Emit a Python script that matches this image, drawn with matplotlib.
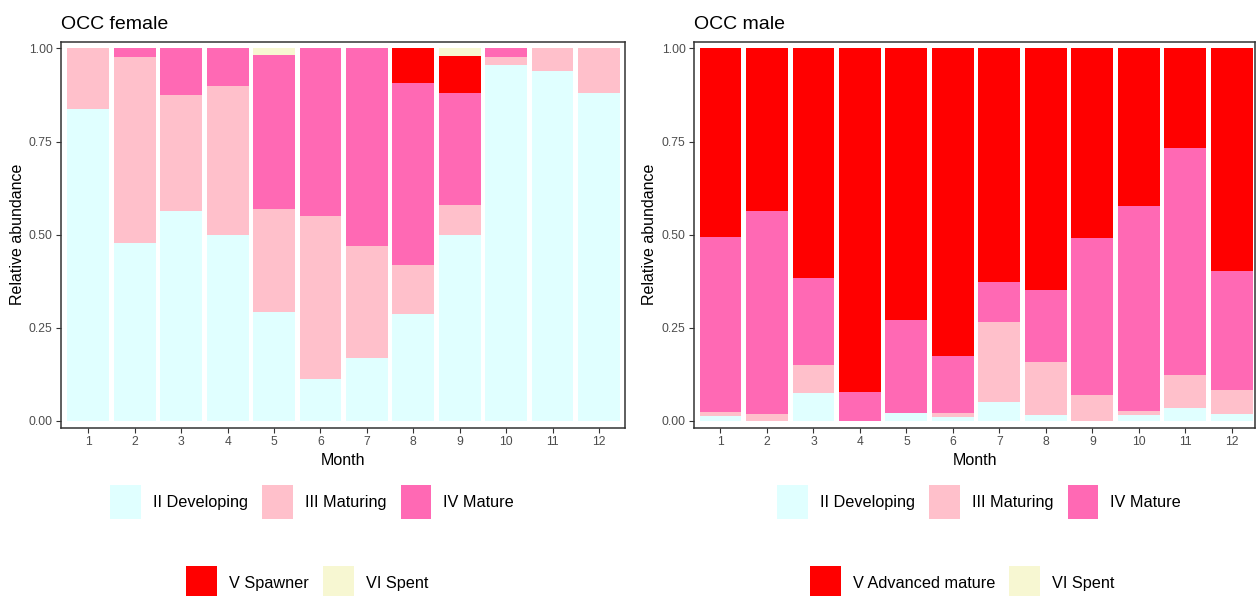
import matplotlib
matplotlib.use("Agg")
import matplotlib.pyplot as plt
from matplotlib.patches import Patch
import numpy as np

plt.rcParams['font.family'] = ['Liberation Sans', 'DejaVu Sans']

months = list(range(1, 13))
month_labels = [str(m) for m in months]

female_stages = ["II Developing", "III Maturing", "IV Mature", "V Spawner", "VI Spent"]
male_stages = ["II Developing", "III Maturing", "IV Mature", "V Advanced mature", "VI Spent"]
stage_colors = ["#E0FFFF", "#FFC0CB", "#FF69B4", "#FF0000", "#F7F7D2"]

# Relative abundance of each maturity stage per month (stacked from the bottom)
female_developing = [0.837, 0.477, 0.563, 0.500, 0.292, 0.112, 0.169, 0.288, 0.500, 0.956, 0.940, 0.880]
female_maturing   = [0.163, 0.499, 0.312, 0.400, 0.277, 0.438, 0.301, 0.132, 0.081, 0.020, 0.060, 0.120]
female_mature     = [0.000, 0.024, 0.125, 0.100, 0.413, 0.450, 0.530, 0.488, 0.299, 0.024, 0.000, 0.000]
female_spawner    = [0.000, 0.000, 0.000, 0.000, 0.000, 0.000, 0.000, 0.092, 0.100, 0.000, 0.000, 0.000]
female_spent      = [0.000, 0.000, 0.000, 0.000, 0.018, 0.000, 0.000, 0.000, 0.020, 0.000, 0.000, 0.000]

male_developing   = [0.014, 0.000, 0.075, 0.000, 0.021, 0.010, 0.052, 0.017, 0.000, 0.015, 0.034, 0.019]
male_maturing     = [0.010, 0.019, 0.076, 0.000, 0.000, 0.011, 0.214, 0.140, 0.070, 0.013, 0.089, 0.064]
male_mature       = [0.469, 0.544, 0.232, 0.077, 0.250, 0.153, 0.108, 0.194, 0.421, 0.550, 0.610, 0.320]
male_adv_mature   = [0.507, 0.437, 0.617, 0.923, 0.729, 0.826, 0.626, 0.649, 0.509, 0.422, 0.267, 0.597]
male_spent        = [0.000, 0.000, 0.000, 0.000, 0.000, 0.000, 0.000, 0.000, 0.000, 0.000, 0.000, 0.000]

y_ticks = [0.0, 0.25, 0.5, 0.75, 1.0]
y_tick_labels = ["0.00", "0.25", "0.50", "0.75", "1.00"]

W, H = 1256, 596
fig = plt.figure(figsize=(W / 100, H / 100), dpi=100)
fig.patch.set_facecolor("white")


def px_rect(x0, y0, x1, y1):
    return [x0 / W, 1 - y1 / H, (x1 - x0) / W, (y1 - y0) / H]


def draw_panel(ax, title, series, xlim):
    bottom = np.zeros(len(months))
    for vals, col in zip(series, stage_colors):
        vals = np.asarray(vals)
        ax.bar(months, vals, width=0.9, bottom=bottom, color=col, linewidth=0)
        bottom += vals
    ax.set_xlim(*xlim)
    ax.set_ylim(-0.018, 1.018)
    ax.set_xticks(months)
    ax.set_xticklabels(month_labels)
    ax.set_yticks(y_ticks)
    ax.set_yticklabels(y_tick_labels)
    ax.tick_params(axis="both", direction="out", length=3.5, width=0.8,
                   color="#333333", labelcolor="#4D4D4D", labelsize=8.7, pad=2.5)
    for sp in ax.spines.values():
        sp.set_color("#333333")
        sp.set_linewidth(1.1)
    ax.set_xlabel("Month", fontsize=11.5, labelpad=3.5)
    ax.set_ylabel("Relative abundance", fontsize=11.5, labelpad=3)
    ax.set_title(title, loc="left", fontsize=14, pad=9)


ax_f = fig.add_axes(px_rect(61, 41.7, 625, 427.7))
ax_m = fig.add_axes(px_rect(694, 41.7, 1255, 427.7))

draw_panel(ax_f, "OCC female",
           [female_developing, female_maturing, female_mature, female_spawner, female_spent],
           (0.41, 12.56))
draw_panel(ax_m, "OCC male",
           [male_developing, male_maturing, male_mature, male_adv_mature, male_spent],
           (0.43, 12.5))

LEG_FS = 11.7


def add_legend_row(labels, colors, x_px, y_px):
    handles = [Patch(facecolor=c, edgecolor="none") for c in colors]
    fig.legend(handles, labels, loc="center left",
               bbox_to_anchor=(x_px / W, 1 - y_px / H), bbox_transform=fig.transFigure,
               ncol=len(labels), frameon=False, fontsize=LEG_FS,
               handlelength=1.9, handleheight=2.75, handletextpad=0.74,
               columnspacing=0.87, borderpad=0, borderaxespad=0)


add_legend_row(female_stages[:3], stage_colors[:3], 110, 502)
add_legend_row(female_stages[3:], stage_colors[3:], 186, 583)
add_legend_row(male_stages[:3], stage_colors[:3], 777, 502)
add_legend_row(male_stages[3:], stage_colors[3:], 810, 583)

fig.savefig("out.png", dpi=100, facecolor="white")
